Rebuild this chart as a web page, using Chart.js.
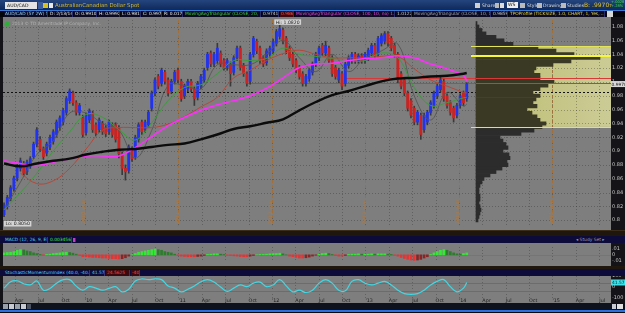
<!DOCTYPE html>
<html><head><meta charset="utf-8">
<script src="https://cdn.jsdelivr.net/npm/chart.js@4.4.1/dist/chart.umd.min.js"></script>
<style>
*{box-sizing:border-box}
html,body{margin:0;padding:0;width:625px;height:313px;overflow:hidden;background:#07080d;font-family:"DejaVu Sans",sans-serif}
.a{position:absolute;white-space:nowrap;overflow:hidden}
.t{font-size:4.6px;line-height:6px}
.bx{position:absolute;top:11px;height:6px;font-size:4.4px;line-height:6px;white-space:nowrap;overflow:hidden;background:#0a0b22;border-right:1px solid #2a2c66;padding-left:1px;z-index:3}
.hb{position:absolute;height:6px;font-size:4.4px;line-height:6px;white-space:nowrap;overflow:hidden;padding-left:1px;border-right:1px solid #34347a;z-index:3}
canvas{position:absolute;left:0;z-index:1}
</style></head><body>
<!-- top toolbar -->
<div class="a" style="left:0;top:0;width:625px;height:10px;background:linear-gradient(#23457e,#0f295a);z-index:2"></div>
<div class="a" style="left:0;top:10px;width:625px;height:1px;background:#3a78d8;z-index:2"></div>
<div class="a t" style="left:5px;top:2px;width:32px;height:7px;background:#e4e4e4;color:#111;padding-left:2px;line-height:7px;z-index:3">AUD/CAD</div>
<div class="a" style="left:38px;top:2px;width:5px;height:7px;background:#3b5c9c;z-index:3"></div>
<div class="a" style="left:43px;top:3px;width:5px;height:5px;background:#d8c020;z-index:3"></div>
<div class="a" style="left:49px;top:3px;width:4px;height:5px;background:#e8e8e8;z-index:3"></div>
<div class="a" style="left:55px;top:2px;font-size:5.4px;line-height:7px;color:#d2b52a;z-index:3">AustralianCanadian Dollar Spot</div>
<div class="a" style="left:475px;top:3px;width:5px;height:5px;background:#cfcfcf;z-index:3"></div>
<div class="a t" style="left:482px;top:2px;color:#dcdcdc;line-height:7px;z-index:3">Share</div>
<div class="a" style="left:495px;top:3px;width:4px;height:5px;background:#bbb;z-index:3"></div>
<div class="a" style="left:500px;top:3px;width:4px;height:5px;background:#ddd;z-index:3"></div>
<div class="a t" style="left:507px;top:2px;width:11px;height:6px;background:#eee;color:#111;line-height:6px;padding-left:1px;z-index:3">WS</div>
<div class="a" style="left:520px;top:3px;width:5px;height:5px;background:#bbb;z-index:3"></div>
<div class="a t" style="left:527px;top:2px;color:#dcdcdc;line-height:7px;z-index:3">Style</div>
<div class="a" style="left:537px;top:3px;width:5px;height:5px;background:#bbb;z-index:3"></div>
<div class="a t" style="left:543px;top:2px;color:#dcdcdc;line-height:7px;z-index:3">Drawings</div>
<div class="a" style="left:561px;top:3px;width:5px;height:5px;background:#bbb;z-index:3"></div>
<div class="a t" style="left:567px;top:2px;color:#dcdcdc;line-height:7px;z-index:3">Studies</div>
<div class="a" style="left:584px;top:1px;font-size:6px;line-height:8px;color:#e2c22a;z-index:3">B: .9970<span style="font-size:4px">7</span></div>
<div class="a" style="left:611px;top:0px;font-size:3.6px;line-height:4px;color:#3fe03f;z-index:3">+.0028<br>+.28%</div>
<!-- study info row -->
<div class="a" style="left:0;top:11px;width:625px;height:6px;background:#04050b;z-index:2"></div>
<div class="bx" style="left:4px;width:44px;color:#9fd3ff">AUD/CAD (5Y 2W) 5y 2w</div>
<div class="bx" style="left:49px;width:24px;color:#e8e8e8">D: 2/13/14</div>
<div class="bx" style="left:74px;width:23px;color:#e8e8e8">O: 0.99107</div>
<div class="bx" style="left:98px;width:22px;color:#e8e8e8">H: 0.99921</div>
<div class="bx" style="left:121px;width:20px;color:#e8e8e8">L: 0.98126</div>
<div class="bx" style="left:142px;width:20px;color:#e8e8e8">C: 0.99707</div>
<div class="bx" style="left:163px;width:20px;color:#e8e8e8">R: 0.01795</div>
<div class="bx" style="left:184px;width:77px;color:#3fd03f">MovingAvgTriangular (CLOSE, 20, 10, no) 0.9718</div>
<div class="bx" style="left:262px;width:17px;color:#c8c8c8">0.9741</div>
<div class="bx" style="left:280px;width:14px;color:#ff4a4a;background:#3a0a10">0.9867</div>
<div class="bx" style="left:295px;width:100px;color:#e646e6">MovingAvgTriangular (CLOSE, 100, 10, no) 1.0013</div>
<div class="bx" style="left:396px;width:16px;color:#c8c8c8">1.0122</div>
<div class="bx" style="left:413px;width:78px;color:#a0a0b0">MovingAvgTriangular (CLOSE, 10, 10, no)</div>
<div class="bx" style="left:492px;width:16px;color:#c8c8c8">0.9859</div>
<div class="bx" style="left:509px;width:96px;color:#e2d040">TPOProfile (TICKSIZE, 1.0, CHART, 1, Yes, ...</div>
<div class="a" style="left:607px;top:11px;width:6px;height:6px;background:#d8d8d8;z-index:3"></div>

<canvas id="main" width="625" height="214" style="top:16px"></canvas>

<div class="a" style="left:0;top:230px;width:625px;height:6px;background:#1f170d;z-index:2"></div>
<div class="a" style="left:0;top:230px;width:625px;height:1px;background:#3a2c18;z-index:2"></div>
<div class="a" style="left:0;top:236px;width:625px;height:7px;background:#0c0b3a;z-index:2"></div>
<div class="hb" style="left:4px;top:236.5px;width:44px;color:#55d2ff">MACD (12, 26, 9, EMA)</div>
<div class="hb" style="left:49px;top:236.5px;width:23px;color:#3af03a">0.0034564</div>
<div class="hb" style="left:73px;top:237.5px;width:3px;height:4px;background:#c040c0"></div>
<div class="hb" style="left:575px;top:236.5px;width:32px;color:#9a9ab4;border:none">◂ Study Set ▸</div>
<canvas id="macd" width="625" height="23" style="top:243px"></canvas>

<div class="a" style="left:0;top:266px;width:625px;height:3px;background:#1f170d;z-index:2"></div>
<div class="a" style="left:0;top:269px;width:625px;height:7px;background:#0c0b3a;z-index:2"></div>
<div class="hb" style="left:4px;top:269.5px;width:86px;color:#55d2ff">StochasticMomentumIndex (40.0, -40.0, 5, 5)</div>
<div class="hb" style="left:91px;top:269.5px;width:14px;color:#55d2ff">41.5704</div>
<div class="hb" style="left:106px;top:269.5px;width:24px;color:#ff4a4a;background:#3a0a10">24.5625</div>
<div class="hb" style="left:131px;top:269.5px;width:9px;color:#ff4a4a;background:#3a0a10">-40</div>
<canvas id="stoch" width="625" height="33" style="top:270px"></canvas>

<div class="a" style="left:0;top:303px;width:625px;height:7px;background:#0e121c;z-index:2"></div>
<div class="a" style="left:3px;top:304px;width:5px;height:5px;background:#9aa0aa;z-index:3"></div>
<div class="a" style="left:9px;top:304px;width:5px;height:5px;background:#c8ccd2;z-index:3"></div>
<div class="a" style="left:15px;top:304px;width:5px;height:5px;background:#9aa0aa;z-index:3"></div>
<div class="a" style="left:21px;top:304px;width:5px;height:5px;background:#c8ccd2;z-index:3"></div>
<div class="a" style="left:27px;top:304px;width:4px;height:5px;background:#4a5060;z-index:3"></div>
<div class="a" style="left:612px;top:304px;width:4px;height:5px;background:#c8ccd2;z-index:3"></div>
<div class="a" style="left:617px;top:304px;width:6px;height:5px;background:#e0e0e0;z-index:3"></div>
<div class="a" style="left:0;top:310px;width:625px;height:2px;background:#2c6fe0;z-index:2"></div>

<script>
// ================= DATA =================
// bar times: every ~13 days starting mid-Feb 2009 (decimal years)
const startT = 2009.134, stepT = 0.0351;
const open = [0.808,0.820,0.831,0.845,0.861,0.875,0.882,0.870,0.878,0.892,
0.910,0.917,0.903,0.897,0.906,0.914,0.924,0.934,0.942,0.956,
0.973,0.984,0.970,0.956,0.948,0.927,0.945,0.955,0.938,0.931,
0.940,0.934,0.928,0.938,0.938,0.934,0.896,0.875,0.872,0.903,
0.892,0.917,0.942,0.931,0.938,0.962,0.984,1.008,0.998,1.014,
1.003,0.987,1.001,1.017,1.001,0.980,0.990,1.001,0.990,0.978,
0.994,1.003,1.021,1.042,1.026,1.031,1.042,1.031,1.021,1.026,
1.014,1.035,1.049,1.024,1.012,1.001,1.040,1.059,1.049,1.035,
1.028,1.040,1.045,1.056,1.066,1.075,1.063,1.049,1.040,1.031,
1.021,1.012,0.998,1.005,1.014,1.026,1.035,1.053,1.042,1.049,
1.035,1.021,1.003,1.012,0.998,1.024,1.031,1.040,1.031,1.038,
1.031,1.035,1.042,1.053,1.040,1.056,1.059,1.070,1.063,1.053,
1.040,1.012,1.003,0.984,0.973,0.962,0.942,0.952,0.931,0.942,
0.956,0.966,0.980,0.989,1.001,0.980,0.970,0.962,0.952,0.966,
0.984,0.976];
const close = [0.822,0.833,0.847,0.861,0.878,0.886,0.868,0.884,0.889,0.910,
0.931,0.903,0.892,0.910,0.920,0.928,0.942,0.948,0.959,0.976,
0.987,0.970,0.956,0.966,0.924,0.952,0.958,0.931,0.926,0.945,
0.928,0.925,0.942,0.924,0.917,0.896,0.875,0.870,0.906,0.889,
0.920,0.938,0.928,0.942,0.956,0.984,1.003,0.994,1.017,1.001,
0.984,1.001,1.014,1.003,0.976,0.994,1.001,0.990,0.976,0.998,
1.008,1.017,1.040,1.026,1.040,1.049,1.026,1.021,1.031,1.012,
1.035,1.049,1.021,1.012,0.998,1.040,1.063,1.045,1.031,1.026,
1.045,1.049,1.059,1.073,1.077,1.059,1.045,1.035,1.026,1.017,
1.008,0.998,1.008,1.017,1.026,1.040,1.049,1.042,1.053,1.031,
1.012,1.008,1.017,0.994,1.026,1.035,1.040,1.031,1.038,1.031,
1.040,1.046,1.053,1.038,1.063,1.067,1.070,1.056,1.049,1.040,
1.003,0.994,0.984,0.962,0.952,0.942,0.956,0.924,0.952,0.956,
0.970,0.984,0.994,1.003,0.976,0.966,0.956,0.948,0.966,0.980,
0.970,0.997];
const high = [0.825,0.836,0.850,0.864,0.881,0.890,0.885,0.887,0.892,0.913,
0.934,0.921,0.906,0.913,0.923,0.931,0.945,0.951,0.962,0.979,
0.990,0.987,0.973,0.969,0.952,0.955,0.961,0.958,0.941,0.948,
0.943,0.937,0.945,0.941,0.941,0.937,0.899,0.880,0.909,0.906,
0.923,0.941,0.945,0.945,0.959,0.987,1.006,1.011,1.020,1.017,
1.006,1.004,1.017,1.020,1.004,0.997,1.004,1.004,0.993,1.001,
1.011,1.020,1.043,1.045,1.043,1.056,1.045,1.034,1.034,1.029,
1.038,1.052,1.052,1.027,1.015,1.043,1.066,1.062,1.052,1.038,
1.048,1.052,1.062,1.076,1.082,1.078,1.066,1.052,1.043,1.034,
1.024,1.015,1.011,1.020,1.029,1.043,1.052,1.056,1.059,1.052,
1.038,1.024,1.020,1.015,1.029,1.038,1.043,1.043,1.041,1.041,
1.043,1.049,1.056,1.056,1.066,1.070,1.073,1.073,1.066,1.056,
1.043,1.015,1.006,0.987,0.976,0.965,0.959,0.955,0.955,0.959,
0.973,0.987,0.997,1.009,1.004,0.983,0.973,0.965,0.969,0.983,
0.987,0.999];
const low = [0.805,0.816,0.828,0.842,0.857,0.871,0.864,0.866,0.875,0.889,
0.906,0.899,0.888,0.893,0.902,0.910,0.920,0.930,0.938,0.952,
0.969,0.966,0.952,0.952,0.920,0.923,0.941,0.927,0.922,0.927,
0.924,0.921,0.924,0.920,0.913,0.890,0.866,0.858,0.868,0.885,
0.888,0.913,0.924,0.927,0.934,0.958,0.980,0.990,0.994,0.997,
0.980,0.983,0.997,0.999,0.972,0.976,0.986,0.986,0.966,0.974,
0.990,0.999,1.017,1.022,1.022,1.027,1.022,1.017,1.017,0.994,
1.010,1.031,1.017,1.008,0.994,0.997,1.036,1.041,1.027,1.022,
1.024,1.036,1.041,1.052,1.062,1.055,1.041,1.031,1.022,1.013,
1.004,0.994,0.994,1.001,1.010,1.022,1.031,1.038,1.038,1.027,
1.008,1.004,0.999,0.989,0.994,1.020,1.027,1.027,1.027,1.027,
1.027,1.031,1.038,1.034,1.036,1.052,1.055,1.052,1.045,1.036,
0.999,0.990,0.980,0.958,0.948,0.938,0.938,0.917,0.927,0.938,
0.952,0.962,0.976,0.985,0.972,0.962,0.952,0.942,0.948,0.962,
0.966,0.972];

// moving averages, sampled at these bar indices
const maIdx = [0,5,10,15,20,25,30,35,40,45,50,55,60,65,70,75,80,85,90,95,100,105,110,115,120,125,130,135,140,141];
const sma10  = [0.815,0.855,0.895,0.915,0.955,0.955,0.940,0.930,0.890,0.930,0.995,0.995,0.990,1.025,1.025,1.025,1.040,1.060,1.035,1.015,1.040,1.015,1.035,1.045,1.055,0.980,0.945,0.985,0.965,0.968];
const sma20  = [0.815,0.840,0.868,0.900,0.928,0.953,0.949,0.931,0.916,0.941,0.973,0.992,0.996,1.012,1.031,1.031,1.034,1.049,1.040,1.037,1.034,1.031,1.031,1.042,1.035,0.992,0.966,0.970,0.977,0.978];
const sma50  = [null,0.868,0.853,0.857,0.875,0.903,0.930,0.934,0.934,0.934,0.939,0.950,0.964,0.978,1.006,1.017,1.031,1.041,1.046,1.040,1.035,1.035,1.035,1.037,1.037,1.019,1.003,0.994,0.985,0.984];
const sma100 = [0.886,0.882,0.879,0.884,0.889,0.893,0.893,0.893,0.905,0.921,0.937,0.949,0.959,0.967,0.973,0.980,0.991,1.006,1.021,1.026,1.027,1.031,1.034,1.035,1.038,1.035,1.026,1.019,1.009,1.002];
const sma200 = [0.882,0.878,0.882,0.886,0.889,0.895,0.899,0.902,0.903,0.906,0.909,0.911,0.917,0.924,0.932,0.936,0.941,0.946,0.959,0.971,0.981,0.987,0.994,1.001,1.005,1.006,1.008,1.009,1.012,1.013];

// horizontal levels
const refLevel = 0.985;                 // dashed black line
const redLevels = [0.998, 1.006];       // red drawn lines
const redLevelStart = [2011.74, 2012.78];

// TPO profile
const profilePrice = [1.085,1.080,1.075,1.070,1.065,1.060,1.055,1.050,1.045,1.040,
1.035,1.030,1.025,1.020,1.015,1.010,1.005,1.000,0.995,0.990,
0.985,0.980,0.975,0.970,0.965,0.960,0.955,0.950,0.945,0.940,
0.935,0.930,0.925,0.920,0.915,0.910,0.905,0.900,0.895,0.890,
0.885,0.880,0.875,0.870,0.865,0.860,0.855,0.850,0.845,0.840,
0.835,0.830,0.825,0.820,0.815,0.810,0.805,0.800];
const profileTPO = [1,3,6,10,20,28,37,62,80,98,
124,95,77,60,58,64,64,78,72,64,
57,64,60,57,61,51,56,61,64,70,
66,58,45,24,27,30,32,27,33,34,
31,32,26,20,14,8,6,4,3,3,
4,4,3,4,5,4,3,2];
const vaHigh = 1.052, vaLow = 0.935, poc = 1.037;

// MACD histogram (in thousandths)
const macdHistMilli = [3.3,3.9,4.4,5.5,7.7,8.8,8.3,6.6,5.5,3.3,
2.2,0.6,-0.6,0.6,1.1,2.2,2.8,3.3,3.9,4.4,
3.9,2.8,1.1,-1.1,-3.3,-3.3,-3.9,-4.4,-4.4,-5.0,
-5.5,-5.5,-6.1,-6.6,-6.6,-7.2,-6.6,-5.0,-2.2,0,
2.2,4.4,5.5,6.6,7.7,8.8,9.9,8.8,7.7,5.5,
4.4,3.3,1.1,-1.1,-2.2,-2.8,-3.3,-3.3,-3.3,-2.8,
-2.2,-1.1,0.6,1.1,1.7,1.7,1.1,0.6,-0.6,-1.1,
-1.7,-2.2,-2.8,-3.3,-3.3,-2.2,-1.1,0,0.6,0.6,
1.1,1.7,2.2,2.2,2.8,1.7,0,-2.2,-3.3,-4.4,
-5.5,-5.5,-5.0,-3.9,-2.2,-0.6,1.1,2.2,2.8,2.2,
0.6,-1.1,-2.2,-2.2,-1.1,0.6,1.1,1.1,1.7,1.1,
1.1,1.1,1.7,1.1,1.7,1.7,1.7,1.1,0.6,-0.6,
-2.2,-4.4,-6.1,-7.7,-8.8,-9.4,-8.8,-7.7,-5.5,-3.3,
0.6,3.3,5.5,7.7,8.8,7.7,5.5,3.3,1.7,1.1,
2.2,3.3];

// Stochastic momentum index, sampled every 2nd bar (last = final bar)
const smi = [-10,48,57,30,20,55,-29,-13,35,67,67,8,-29,3,-10,-29,-13,3,-44,-20,
55,73,67,73,67,10,-10,-44,-20,10,48,67,45,0,-40,-10,19,3,35,45,
3,19,67,10,-44,-29,-50,-29,35,67,35,-29,-35,51,67,35,19,35,51,19,
-29,-60,-67,-60,-29,19,51,67,3,-44,-10,41];
const smiLevels = [40, -40];

// axes
const xMin = 2009.123, xMax = 2015.626;
const yearLines = [2010,2011,2012,2013,2014,2015];
const priceTicks = [0.80,0.82,0.84,0.86,0.88,0.90,0.92,0.94,0.96,0.98,1.00,1.02,1.04,1.06,1.08];
const priceTickLabels = ['0.8','0.82','0.84','0.86','0.88','0.9','0.92','0.94','0.96','0.98','1','1.02','1.04','1.06','1.08'];
const timeTicks = [2009.25,2009.5,2009.75,2010,2010.25,2010.5,2010.75,2011,2011.25,2011.5,2011.75,2012,2012.25,2012.5,2012.75,2013,2013.25,2013.5,2013.75,2014,2014.25,2014.5,2014.75,2015,2015.25,2015.5];
const timeTickLabels = ['Apr','Jul','Oct',"'10",'Apr','Jul','Oct',"'11",'Apr','Jul','Oct',"'12",'Apr','Jul','Oct',"'13",'Apr','Jul','Oct',"'14",'Apr','Jul','Oct',"'15",'Apr','Jul'];
const macdTicks = [-10, 0, 10], macdTickLabels = ['-.01', '0', '.01'];
const smiTicks = [-100, 0, 100], smiTickLabels = ['-100', '0', '100'];

// ================= BUILD =================
const times = open.map((_, i) => startT + i * stepT);
const smiIdx = smi.map((_, k) => k < smi.length - 1 ? 2 * k : open.length - 1);
const FONT = '"DejaVu Sans", sans-serif';
const GRAY = '#7e7e7e', DARK = '#131318';

function hline(ctx, x1, x2, y) { ctx.beginPath(); ctx.moveTo(x1, y); ctx.lineTo(x2, y); ctx.stroke(); }
function vline(ctx, x, y1, y2) { ctx.beginPath(); ctx.moveTo(x, y1); ctx.lineTo(x, y2); ctx.stroke(); }
function boxLabel(ctx, text, x, y, bg, fg, align) {
  ctx.font = '4.6px ' + FONT;
  const w = ctx.measureText(text).width + 3, h = 5.5;
  const lx = align === 'center' ? x - w / 2 : x;
  ctx.fillStyle = bg; ctx.fillRect(lx, y, w, h);
  ctx.fillStyle = fg; ctx.textBaseline = 'middle'; ctx.textAlign = 'left';
  ctx.fillText(text, lx + 1.5, y + h / 2 + 0.3);
}
function drawQuarterGrid(ctx, chart) {
  const a = chart.chartArea, x = chart.scales.x;
  ctx.strokeStyle = 'rgba(40,40,40,0.35)'; ctx.lineWidth = 1; ctx.setLineDash([1, 2]);
  timeTicks.forEach(t => { const px = Math.round(x.getPixelForValue(t)) + 0.5; vline(ctx, px, a.top, a.bottom); });
  ctx.setLineDash([]);
}
function panelBg(chart) {
  const {ctx, chartArea: a, width, height} = chart;
  ctx.save();
  ctx.fillStyle = DARK; ctx.fillRect(0, 0, width, height);
  ctx.fillStyle = GRAY; ctx.fillRect(a.left, 0, a.right - a.left, height);
  ctx.restore();
}
const rightAxis = (ticks, labels, min, max) => ({
  type: 'linear', position: 'right', min, max, offset: false,
  grid: {display: false, drawTicks: false}, border: {display: false},
  afterBuildTicks: s => { s.ticks = ticks.map(v => ({value: v})); },
  afterFit: s => { s.width = 14; },
  ticks: {color: '#c8c8c8', font: {size: 5, family: FONT}, padding: 1, autoSkip: false,
    callback: v => { const i = ticks.indexOf(v); return i >= 0 ? labels[i] : ''; }}
});
const baseOpts = {responsive: false, animation: false, events: [],
  plugins: {legend: {display: false}, tooltip: {enabled: false}}};

// ---------- main price chart ----------
const mainDecor = {
  id: 'mainDecor',
  beforeDraw(chart) { panelBg(chart); },
  beforeDatasetsDraw(chart) {
    const {ctx, chartArea: a, scales: {x, y, xp}} = chart;
    ctx.save();
    ctx.beginPath(); ctx.rect(a.left, a.top, a.right - a.left, a.bottom - a.top); ctx.clip();
    // value area band
    const x0 = xp.getPixelForValue(0);
    const yt = y.getPixelForValue(vaHigh), yb = y.getPixelForValue(vaLow);
    const g = ctx.createLinearGradient(x0, 0, a.right, 0);
    g.addColorStop(0, '#bdbd70'); g.addColorStop(1, '#cbcb96');
    ctx.fillStyle = g; ctx.fillRect(x0, yt, a.right - x0, yb - yt);
    // grid
    drawQuarterGrid(ctx, chart);
    ctx.strokeStyle = 'rgba(40,40,40,0.35)'; ctx.setLineDash([1, 2]);
    priceTicks.forEach(v => { const py = Math.round(y.getPixelForValue(v)) + 0.5; hline(ctx, a.left, a.right, py); });
    // year separators
    ctx.strokeStyle = '#a0703c'; ctx.setLineDash([3, 2]);
    yearLines.forEach(yr => { const px = Math.round(x.getPixelForValue(yr)) + 0.5; vline(ctx, px, a.top, a.bottom); });
    ctx.setLineDash([]);
    ctx.fillStyle = '#b07a40'; ctx.font = '4.8px ' + FONT; ctx.textBaseline = 'middle'; ctx.textAlign = 'left';
    yearLines.forEach(yr => {
      const px = x.getPixelForValue(yr);
      ctx.save(); ctx.translate(px - 1, a.bottom - 2); ctx.rotate(-Math.PI / 2);
      ctx.fillText(yr + ' year', 0, 0); ctx.restore();
    });
    // copyright
    ctx.fillStyle = '#2fae3a'; ctx.beginPath(); ctx.arc(a.left + 4, a.top + 4, 2.6, 0, Math.PI * 2); ctx.fill();
    ctx.fillStyle = '#b4b4b4'; ctx.font = '4.4px ' + FONT;
    ctx.fillText('2013 © TD Ameritrade IP Company, Inc.', a.left + 9, a.top + 4);
    // dashed reference line
    ctx.strokeStyle = '#111'; ctx.setLineDash([2, 2]); ctx.lineWidth = 1;
    hline(ctx, a.left, a.right, Math.round(y.getPixelForValue(refLevel)) + 0.5);
    ctx.setLineDash([]);
    // red levels
    ctx.strokeStyle = '#d83838';
    redLevels.forEach((lv, i) => hline(ctx, x.getPixelForValue(redLevelStart[i]), a.right, Math.round(y.getPixelForValue(lv)) + 0.5));
    ctx.restore();
  },
  afterDatasetsDraw(chart) {
    const {ctx, chartArea: a, scales: {x, y, xp}} = chart;
    ctx.save();
    const xs = xp.getPixelForValue(-5);
    ctx.strokeStyle = '#e4e45a'; ctx.lineWidth = 1;
    [vaHigh, vaLow].forEach(v => hline(ctx, xs, a.right, Math.round(y.getPixelForValue(v)) + 0.5));
    ctx.strokeStyle = '#f6f63a'; ctx.lineWidth = 2;
    hline(ctx, xs, a.right, Math.round(y.getPixelForValue(poc)));
    // red levels continue across the profile
    ctx.strokeStyle = '#d83838'; ctx.lineWidth = 1;
    redLevels.forEach(lv => hline(ctx, xp.getPixelForValue(0), a.right, Math.round(y.getPixelForValue(lv)) + 0.5));
    // hi / lo labels
    const hiV = Math.max(...high), hiI = high.indexOf(hiV);
    const loV = Math.min(...low);
    boxLabel(ctx, 'Hi: ' + hiV.toFixed(4), x.getPixelForValue(times[hiI]) + 8, y.getPixelForValue(hiV) - 6, '#d4d4d4', '#222', 'center');
    boxLabel(ctx, 'Lo: ' + loV.toFixed(4), a.left + 1, a.bottom - 5, '#d4d4d4', '#222', 'left');
    // last price tag on axis
    const last = close[close.length - 1];
    const py = y.getPixelForValue(last);
    ctx.fillStyle = '#d8d8d8'; ctx.fillRect(a.right, py - 3, 14, 6);
    ctx.fillStyle = '#111'; ctx.font = '4.4px ' + FONT; ctx.textBaseline = 'middle'; ctx.textAlign = 'left';
    ctx.fillText(last.toFixed(4), a.right + 0.5, py + 0.3);
    ctx.restore();
  }
};

const lineDs = (label, vals, color, width, order) => ({
  type: 'line', label, data: maIdx.map((k, j) => ({x: times[k], y: vals[j]})),
  borderColor: color, borderWidth: width, pointRadius: 0, tension: 0.4, order,
  xAxisID: 'x', yAxisID: 'y', spanGaps: false
});

new Chart(document.getElementById('main'), {
  type: 'bar',
  data: {datasets: [
    lineDs('SMA200', sma200, '#0c0c0c', 2.4, 1),
    lineDs('SMA100', sma100, '#ff2eff', 1.5, 2),
    lineDs('SMA50', sma50, '#b5483a', 1, 3),
    lineDs('SMA20', sma20, '#3c9c3c', 1, 4),
    lineDs('SMA10', sma10, '#565656', 0.9, 5),
    {type: 'bar', label: 'bodies', data: times.map((t, i) => ({x: t, y: [open[i], close[i]]})),
     backgroundColor: close.map((c, i) => c >= open[i] ? '#2233ee' : '#cc2222'),
     barPercentage: 1, categoryPercentage: 1, maxBarThickness: 2.2, grouped: false, order: 7, xAxisID: 'x', yAxisID: 'y'},
    {type: 'bar', label: 'wicks', data: times.map((t, i) => ({x: t, y: [low[i], high[i]]})),
     backgroundColor: '#3a3a3a', barPercentage: 1, categoryPercentage: 1, maxBarThickness: 1, grouped: false, order: 8, xAxisID: 'x', yAxisID: 'y'},
    {type: 'bar', label: 'TPO', indexAxis: 'y', xAxisID: 'xp', yAxisID: 'yp',
     data: profilePrice.map((p, i) => ({x: profileTPO[i], y: p})),
     backgroundColor: profilePrice.map(p => (p <= vaHigh && p >= vaLow) ? '#3a3a24' : '#2c2c2c'),
     barPercentage: 1, categoryPercentage: 1, maxBarThickness: 3.7, grouped: false, order: 9}
  ]},
  options: Object.assign({}, baseOpts, {
    layout: {padding: {left: 3, right: 0, top: 0, bottom: 0}},
    scales: {
      x: {type: 'linear', min: xMin, max: xMax, display: false, offset: false},
      xp: {type: 'linear', min: -473, max: 135, display: false, offset: false},
      yp: {type: 'linear', min: 0.7916, max: 1.0897, display: false, offset: false},
      y: rightAxis(priceTicks, priceTickLabels, 0.7916, 1.0897)
    }
  }),
  plugins: [mainDecor]
});

// ---------- MACD ----------
const macdColors = macdHistMilli.map((v, i) => {
  const p = i ? macdHistMilli[i - 1] : v;
  if (v >= 0) return v >= p ? '#36e836' : '#2b7d2b';
  return v <= p ? '#e43434' : '#8c2424';
});
new Chart(document.getElementById('macd'), {
  type: 'bar',
  data: {datasets: [{
    label: 'Diff', data: times.map((t, i) => ({x: t, y: macdHistMilli[i]})),
    backgroundColor: macdColors, barPercentage: 1, categoryPercentage: 1, maxBarThickness: 2, grouped: false
  }]},
  options: Object.assign({}, baseOpts, {
    layout: {padding: {left: 3, right: 0, top: 0, bottom: 0}},
    scales: {
      x: {type: 'linear', min: xMin, max: xMax, display: false, offset: false},
      y: rightAxis(macdTicks, macdTickLabels, -12.2, 13.3)
    }
  }),
  plugins: [{
    id: 'macdDecor',
    beforeDraw(chart) { panelBg(chart); },
    beforeDatasetsDraw(chart) {
      const {ctx, chartArea: a, scales: {y}} = chart;
      ctx.save(); drawQuarterGrid(ctx, chart);
      ctx.strokeStyle = '#c040c0'; ctx.lineWidth = 1;
      hline(ctx, a.left, a.right, Math.round(y.getPixelForValue(0)) + 0.5);
      ctx.restore();
    }
  }]
});

// ---------- Stochastic Momentum Index ----------
new Chart(document.getElementById('stoch'), {
  type: 'line',
  data: {datasets: [{
    label: 'SMI', data: smiIdx.map((k, j) => ({x: times[k], y: smi[j]})),
    borderColor: '#3fd8e4', borderWidth: 1.2, pointRadius: 0, tension: 0.4
  }]},
  options: Object.assign({}, baseOpts, {
    layout: {padding: {left: 3, right: 0, top: 6, bottom: 0}},
    scales: {
      x: {type: 'linear', min: xMin, max: xMax, offset: false, position: 'bottom',
        grid: {display: false, drawTicks: false}, border: {display: false},
        afterBuildTicks: s => { s.ticks = timeTicks.map(v => ({value: v})); },
        afterFit: s => { s.height = 5; },
        ticks: {color: '#1c1c1c', font: {size: 4.8, family: FONT}, padding: 0, autoSkip: false,
          maxRotation: 0, minRotation: 0, align: 'start',
          callback: v => { const i = timeTicks.indexOf(v); return i >= 0 ? timeTickLabels[i] : ''; }}},
      y: rightAxis(smiTicks, smiTickLabels, -100, 100)
    }
  }),
  plugins: [{
    id: 'smiDecor',
    beforeDraw(chart) { panelBg(chart); },
    beforeDatasetsDraw(chart) {
      const {ctx, chartArea: a, scales: {y}} = chart;
      ctx.save(); drawQuarterGrid(ctx, chart);
      ctx.strokeStyle = '#d24040'; ctx.lineWidth = 1;
      smiLevels.forEach(v => hline(ctx, a.left, a.right, Math.round(y.getPixelForValue(v)) + 0.5));
      ctx.restore();
    },
    afterDatasetsDraw(chart) {
      const {ctx, chartArea: a, scales: {y}} = chart;
      const last = smi[smi.length - 1], py = y.getPixelForValue(last);
      ctx.save();
      ctx.fillStyle = '#3fe0e8'; ctx.fillRect(a.right, py - 3, 14, 6);
      ctx.fillStyle = '#062a2e'; ctx.font = '4.4px ' + FONT; ctx.textBaseline = 'middle'; ctx.textAlign = 'left';
      ctx.fillText('41.57', a.right + 1, py + 0.3);
      ctx.restore();
    }
  }]
});
</script>
</body></html>
